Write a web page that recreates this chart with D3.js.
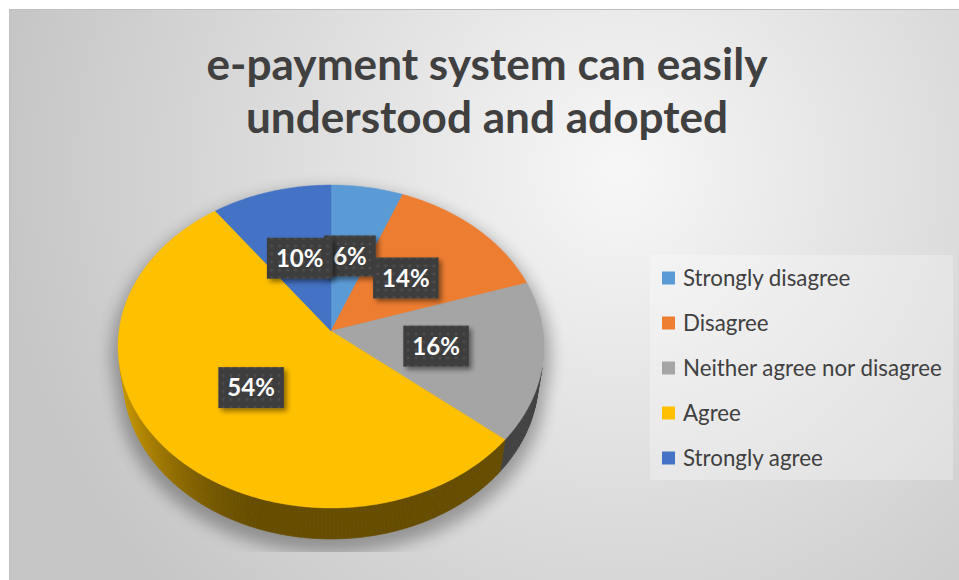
<!DOCTYPE html>
<html>
<head>
<meta charset="utf-8">
<script src="https://cdn.jsdelivr.net/npm/d3@7"></script>
<style>
  html, body { margin: 0; padding: 0; background: #fff; }
  svg { display: block; }
</style>
</head>
<body>
<svg id="chart" width="959" height="580"></svg>
<script>
// ---- data ----
const categories = ["Strongly disagree", "Disagree", "Neither agree nor disagree", "Agree", "Strongly agree"];
const percentValues = [6, 14, 16, 54, 10];
const labelTexts = ["6%", "14%", "16%", "54%", "10%"];
const sliceColors = ["#5b9bd5", "#ed7d31", "#a5a5a5", "#ffc000", "#4472c4"];
const titleLines = ["e-payment system can easily", "understood and adopted"];

// ---- setup ----
const W = 959, H = 580;
const svg = d3.select("#chart");
const defs = svg.append("defs");

const bg = defs.append("radialGradient").attr("id", "bgGrad")
  .attr("gradientUnits", "userSpaceOnUse")
  .attr("cx", 620).attr("cy", 170).attr("r", 620);
bg.append("stop").attr("offset", 0).attr("stop-color", "#f7f7f7");
bg.append("stop").attr("offset", 1).attr("stop-color", "#c6c6c6");

svg.append("rect").attr("x", 9.5).attr("y", 9.5).attr("width", W).attr("height", H)
  .attr("fill", "url(#bgGrad)").attr("stroke", "#bfbfbf").attr("stroke-width", 1);

// dotted label fill
const dots = defs.append("pattern").attr("id", "dots").attr("patternUnits", "userSpaceOnUse")
  .attr("width", 8).attr("height", 8);
dots.append("rect").attr("width", 8).attr("height", 8).attr("fill", "#3e3e3e");
dots.append("circle").attr("cx", 4).attr("cy", 4).attr("r", 1.4).attr("fill", "#4d4d4d");

const ds = defs.append("filter").attr("id", "lblShadow").attr("x", "-30%").attr("y", "-30%").attr("width", "170%").attr("height", "180%");
ds.append("feDropShadow").attr("dx", 3).attr("dy", 3).attr("stdDeviation", 2.5)
  .attr("flood-color", "#000").attr("flood-opacity", 0.45);

const blur = defs.append("filter").attr("id", "pieShadow").attr("x", "-20%").attr("y", "-20%").attr("width", "140%").attr("height", "150%");
blur.append("feGaussianBlur").attr("stdDeviation", 8);

defs.append("clipPath").attr("id", "plotClip")
  .append("rect").attr("x", 0).attr("y", 0).attr("width", W).attr("height", 552);

// ---- 3D perspective projection of the pie ----
const view = { cx: 331, cy: 331, focal: 1448, dist: 6.83, tilt: 49, depth: 0.241 };
const sinT = Math.sin(view.tilt * Math.PI / 180), cosT = Math.cos(view.tilt * Math.PI / 180);
function project(angle, r, h) {
  const x = r * Math.sin(angle), z = -r * Math.cos(angle);
  const up = h * cosT - z * sinT;
  const d = view.dist - (z * cosT + h * sinT);
  return [view.cx + view.focal * x / d, view.cy - view.focal * up / d];
}
const line = d3.line();
const TAU = Math.PI * 2;
function arcPoints(a0, a1, r, h) {
  const n = Math.max(2, Math.ceil((a1 - a0) / (Math.PI / 360)));
  return d3.range(n + 1).map(i => project(a0 + (a1 - a0) * i / n, r, h));
}

const pie = d3.pie().sort(null).value(d => d);
const arcs = pie(percentValues);

// shadow under the pie
const shadowG = svg.append("g").attr("clip-path", "url(#plotClip)")
  .append("g").attr("transform", "translate(0,8)")
  .attr("filter", "url(#pieShadow)").attr("opacity", 0.3);
const topRing = arcPoints(0, TAU, 1.03, 0);
const botRing = arcPoints(0, TAU, 1.03, -view.depth);
shadowG.append("path").attr("d", line(topRing) + "Z").attr("fill", "#000");
shadowG.append("path").attr("d", line(botRing) + "Z").attr("fill", "#000");
const k = 1 / (view.dist * cosT);
const vMin = Math.acos(-k), vMax = TAU - Math.acos(-k);
shadowG.append("path")
  .attr("d", line(arcPoints(vMin, vMax, 1.03, 0).concat(arcPoints(vMin, vMax, 1.03, -view.depth).reverse())) + "Z")
  .attr("fill", "#000");

// side walls, shaded by angle
function light(a) {
  const deg = a * 180 / Math.PI;
  let t = (deg - 195) / (257 - 195);
  t = Math.max(0, Math.min(1, t));
  t = t * t * (3 - 2 * t);
  return 0.40 + 0.37 * t;
}
const sideG = svg.append("g");
arcs.forEach((a, i) => {
  const s0 = Math.max(a.startAngle, vMin), s1 = Math.min(a.endAngle, vMax);
  if (s1 <= s0) return;
  const base = d3.rgb(sliceColors[i]);
  const n = Math.max(1, Math.ceil((s1 - s0) / (Math.PI / 180)));
  for (let j = 0; j < n; j++) {
    const t0 = s0 + (s1 - s0) * j / n, t1 = s0 + (s1 - s0) * (j + 1) / n;
    const f = light((t0 + t1) / 2);
    const col = d3.rgb(base.r * f, base.g * f, base.b * f).formatHex();
    const pts = arcPoints(t0, t1, 1, 0).concat(arcPoints(t0, t1, 1, -view.depth).reverse());
    sideG.append("path").attr("d", line(pts) + "Z").attr("fill", col)
      .attr("stroke", col).attr("stroke-width", 0.6);
  }
});

// top faces
const topG = svg.append("g");
arcs.forEach((a, i) => {
  const pts = [project(0, 0, 0)].concat(arcPoints(a.startAngle, a.endAngle, 1, 0));
  topG.append("path").attr("d", line(pts) + "Z").attr("fill", sliceColors[i])
    .attr("stroke", sliceColors[i]).attr("stroke-width", 0.4);
});

// data labels
const lblG = svg.append("g");
arcs.forEach((a, i) => {
  const mid = (a.startAngle + a.endAngle) / 2;
  const [px, py] = project(mid, 0.5, 0);
  const g = lblG.append("g").attr("transform", `translate(${px},${py})`);
  const rect = g.append("rect").attr("fill", "url(#dots)").attr("filter", "url(#lblShadow)");
  const t = g.append("text").attr("text-anchor", "middle").attr("dy", "0.36em")
    .attr("font-family", "Lato, 'Open Sans', sans-serif").attr("font-weight", 700)
    .attr("font-size", 24).attr("fill", "#fff").text(labelTexts[i]);
  const w = t.node().getComputedTextLength() + 18;
  rect.attr("x", -w / 2).attr("y", -20.5).attr("width", w).attr("height", 41);
});

// title
const titleG = svg.append("g");
const titleBaselines = [80, 133];
const titleTexts = titleLines.map((s, i) => titleG.append("text")
  .attr("x", 487).attr("y", titleBaselines[i]).attr("text-anchor", "middle")
  .attr("font-family", "Lato, 'Open Sans', sans-serif").attr("font-weight", 700)
  .attr("font-size", 40).attr("fill", "#404040").text(s));
const tw = titleTexts[0].node().getComputedTextLength();
const titleSize = 40 * 561 / tw;
titleTexts.forEach(t => t.attr("font-size", titleSize));

// legend
const legG = svg.append("g");
legG.append("rect").attr("x", 650).attr("y", 255).attr("width", 303).attr("height", 225)
  .attr("fill", "#fff").attr("opacity", 0.28);
const legY = d3.scalePoint().domain(categories).range([278, 458]);
const legTexts = [];
categories.forEach((c, i) => {
  const y = legY(c);
  legG.append("rect").attr("x", 662).attr("y", y - 6.5).attr("width", 13).attr("height", 13)
    .attr("fill", sliceColors[i]);
  legTexts.push(legG.append("text").attr("x", 683).attr("y", y).attr("dy", "0.35em")
    .attr("font-family", "Lato, 'Open Sans', sans-serif").attr("font-size", 20)
    .attr("fill", "#404040").text(c));
});
const lw = legTexts[2].node().getComputedTextLength();
const legSize = 20 * 259 / lw;
legTexts.forEach(t => t.attr("font-size", legSize));
</script>
</body>
</html>
